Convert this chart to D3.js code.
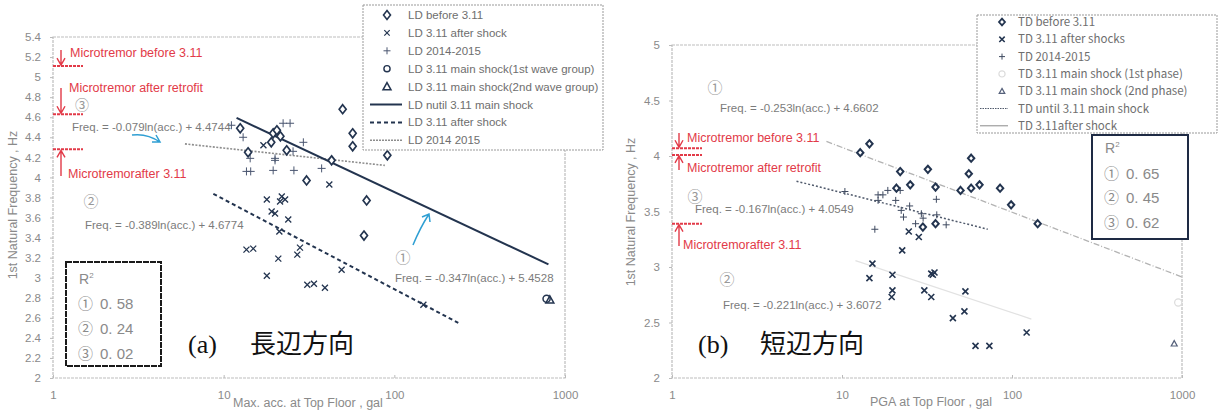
<!DOCTYPE html>
<html>
<head>
<meta charset="utf-8">
<script src="https://cdn.jsdelivr.net/npm/d3@7"></script>
<style>
  body { margin: 0; background: #fff; }
  svg { display: block; }
</style>
</head>
<body>
<svg id="chart" width="1226" height="410"></svg>
<script>
// values: [max acc. at top floor (gal), 1st natural frequency (Hz)]

// (a) long direction (LD)
const ldBefore = [[12.5, 4.49], [19.5, 4.44], [20.5, 4.47], [21.5, 4.41], [19.0, 4.35], [13.9, 4.25],
  [23.4, 4.27], [30.6, 3.97], [42.9, 4.17], [49.8, 4.68], [57, 4.44], [57, 4.31], [91, 4.22],
  [68.8, 3.77], [66.4, 3.42]];
const ldAfter = [[17.1, 4.32], [41.6, 3.93], [17.9, 3.78], [21.9, 3.81], [22.9, 3.78], [21.4, 3.76],
  [19.1, 3.66], [20.0, 3.64], [23.9, 3.58], [21.2, 3.46], [13.6, 3.28], [14.9, 3.29], [20.9, 3.19],
  [28.0, 3.30], [27.0, 3.23], [17.9, 3.02], [30.9, 2.93], [33.8, 2.94], [39.2, 2.90], [49.1, 3.08],
  [148, 2.73]];
const ld2014 = [[11.1, 4.52], [13.0, 4.40], [29.3, 4.35], [22.3, 4.54], [24.5, 4.54], [14.3, 4.19],
  [20.0, 4.19], [20.0, 4.17], [25.5, 4.26], [13.6, 4.06], [14.4, 4.06], [19.5, 4.07], [25.8, 4.07],
  [37.5, 4.09]];
const ldMain1 = [[780, 2.79]];
const ldMain2 = [[815, 2.78]];
// fitted lines, end points
const ldFit1 = [[11.9, 4.593], [800, 3.133]];
const ldFit2 = [[8.7, 3.836], [237, 2.55]];
const ldFit3 = [[5.93, 4.334], [88, 4.12]];
const ldMicro = [5.11, 4.63, 4.28];
const ldR2 = ["0. 58", "0. 24", "0. 02"];

// (b) short direction (TD)
const tdBefore = [[12.8, 4.03], [14.5, 4.11], [22, 3.86], [32, 3.88], [25.2, 3.74], [20.9, 3.71],
  [35.5, 3.72], [57.5, 3.98], [55.7, 3.84], [49.8, 3.69], [57.5, 3.71], [64.4, 3.74], [85.1, 3.71],
  [98.8, 3.56], [141.6, 3.39], [29.9, 3.36], [35.5, 3.39]];
const tdAfter = [[24.7, 3.32], [28.3, 3.27], [22.6, 3.15], [15.1, 3.03], [14.5, 2.90], [19.8, 2.93],
  [19.8, 2.79], [19.6, 2.73], [33.5, 2.94], [35, 2.95], [34.2, 2.93], [30.5, 2.79], [33.5, 2.73],
  [53.2, 2.78], [52.5, 2.60], [44.9, 2.54], [61, 2.29], [73.6, 2.29], [121.9, 2.41]];
const td2014 = [[10.4, 3.68], [16.3, 3.65], [17.4, 3.65], [18.6, 3.69], [16.3, 3.60], [20.7, 3.60],
  [22, 3.69], [22.3, 3.51], [25, 3.55], [35.9, 3.61], [23, 3.45], [29.3, 3.48], [30, 3.44],
  [36.1, 3.47], [27.1, 3.39], [41, 3.38], [15.6, 3.34]];
const tdMain1 = [[950, 2.68]];
const tdMain2 = [[900, 2.31]];
const tdFit1 = [[8.1, 4.131], [1000, 2.91]];
const tdFit2 = [[12, 3.058], [130, 2.531]];
const tdFit3 = [[5.4, 3.773], [72, 3.34]];
const tdMicro = [4.07, 4.01, 3.39];
const tdR2 = ["0. 65", "0. 45", "0. 62"];

const xTicks = [1, 10, 100, 1000];
const yTicksA = [2, 2.2, 2.4, 2.6, 2.8, 3, 3.2, 3.4, 3.6, 3.8, 4, 4.2, 4.4, 4.6, 4.8, 5, 5.2, 5.4];
const yTicksB = [2, 2.5, 3, 3.5, 4, 4.5, 5];

const legendA = ["LD before 3.11", "LD 3.11 after shock", "LD 2014-2015",
  "LD 3.11 main shock(1st wave group)", "LD 3.11 main shock(2nd wave group)",
  "LD nutil 3.11 main shock", "LD 3.11 after shock", "LD 2014 2015"];
const legendB = ["TD before 3.11", "TD 3.11 after shocks", "TD 2014-2015",
  "TD 3.11 main shock (1st phase)", "TD 3.11 main shock (2nd phase)",
  "TD until 3.11 main shock", "TD 3.11after shock"];

const INK = "#23344f";
const RED = "#e23a48";
const GREY = "#7b7b7b";
const NARROW = "'Liberation Sans Narrow','Arial Narrow','Liberation Sans',sans-serif";
const CJK = "'Noto Sans CJK JP','Noto Sans',sans-serif";

const svg = d3.select("#chart");

// marker paths centred on 0,0
const shape = {
  diamond: (w, h) => `M0,${-h}L${w},0L0,${h}L${-w},0Z`,
  times: s => `M${-s},${-s}L${s},${s}M${-s},${s}L${s},${-s}`,
  plus: s => `M${-s},0L${s},0M0,${-s}L0,${s}`,
  triangle: s => `M0,${-s}L${s},${s * 0.8}L${-s},${s * 0.8}Z`
};

function marks(g, data, x, y, d, style) {
  g.append("g").selectAll("path").data(data).join("path")
    .attr("transform", p => `translate(${x(p[0])},${y(p[1])})`)
    .attr("d", d)
    .attr("fill", style.fill || "none")
    .attr("stroke", style.stroke)
    .attr("stroke-width", style.width);
}

function fitLine(g, pts, x, y, style) {
  g.append("line")
    .attr("x1", x(pts[0][0])).attr("y1", y(pts[0][1]))
    .attr("x2", x(pts[1][0])).attr("y2", y(pts[1][1]))
    .attr("stroke", style.stroke).attr("stroke-width", style.width)
    .attr("stroke-dasharray", style.dash || null);
}

function label(g, x, y, str, opts) {
  return g.append("text").attr("x", x).attr("y", y)
    .attr("font-family", opts.font || NARROW)
    .attr("font-size", opts.size || 11)
    .attr("fill", opts.fill || GREY)
    .attr("text-anchor", opts.anchor || "start")
    .text(str);
}

// red vertical arrow, head at yTo
function redArrow(g, x, yFrom, yTo) {
  const dir = yTo > yFrom ? 1 : -1;
  g.append("path")
    .attr("d", `M${x},${yFrom}L${x},${yTo}M${x - 4},${yTo - dir * 7}L${x},${yTo}L${x + 4},${yTo - dir * 7}`)
    .attr("fill", "none").attr("stroke", RED).attr("stroke-width", 1.4);
}

function axes(g, x, y, yTicks, xRange, yRange, ytitle, ytitleX, ytitleY) {
  g.append("rect")
    .attr("x", xRange[0]).attr("y", yRange[1])
    .attr("width", xRange[1] - xRange[0]).attr("height", yRange[0] - yRange[1])
    .attr("fill", "none").attr("stroke", "#bdbdbd").attr("stroke-width", 1.2)
    .attr("stroke-dasharray", "3,1");

  const ya = g.append("g").attr("transform", `translate(${xRange[0]},0)`)
    .call(d3.axisLeft(y).tickValues(yTicks).tickFormat(d3.format("~g")).tickSize(3).tickPadding(9));
  const xa = g.append("g").attr("transform", `translate(0,${yRange[0]})`)
    .call(d3.axisBottom(x).tickValues(xTicks).tickFormat(d3.format("d")).tickSize(-3).tickPadding(13));
  [ya, xa].forEach(a => {
    a.select(".domain").remove();
    a.selectAll(".tick line").attr("stroke", "#bbb");
    a.selectAll(".tick text").attr("fill", "#8a8a8a").attr("font-family", NARROW).attr("font-size", 11.5);
  });

  g.append("text")
    .attr("transform", `translate(${ytitleX},${ytitleY}) rotate(-90)`)
    .attr("text-anchor", "middle")
    .attr("font-family", NARROW).attr("font-size", 12.5).attr("fill", "#8a8a8a")
    .text(ytitle);
}

function r2Box(g, bx, by, bw, bh, values, stroke, dash, rows) {
  g.append("rect").attr("x", bx).attr("y", by).attr("width", bw).attr("height", bh)
    .attr("fill", "#fff").attr("stroke", stroke).attr("stroke-width", 2)
    .attr("stroke-dasharray", dash);
  const t = label(g, bx + 13, rows[0], "R", { size: 14, fill: "#8a8a8a" });
  t.append("tspan").attr("dy", -6).attr("font-size", 8).text("2");
  ["\u2460", "\u2461", "\u2462"].forEach((c, i) => {
    label(g, bx + 12, rows[i + 1], c, { size: 15, fill: "#8a8a8a", font: CJK });
    label(g, bx + 34, rows[i + 1], values[i], { size: 15, fill: "#8a8a8a" });
  });
}

// ---------------- panel (a) ----------------
const xA = d3.scaleLog().domain([1, 1000]).range([53, 565]);
const yA = d3.scaleLinear().domain([2, 5.4]).range([378, 37]);
const gA = svg.append("g");

axes(gA, xA, yA, yTicksA, [53, 565], [378, 37], "1st Natural Frequency , Hz", 17, 205);

fitLine(gA, ldFit3, xA, yA, { stroke: "#8d8d8d", width: 1.6, dash: "2,1.5" });
fitLine(gA, ldFit1, xA, yA, { stroke: INK, width: 2 });
fitLine(gA, ldFit2, xA, yA, { stroke: INK, width: 2, dash: "4,3" });

marks(gA, ld2014, xA, yA, shape.plus(4), { stroke: "#4a5670", width: 1 });
marks(gA, ldAfter, xA, yA, shape.times(3), { stroke: INK, width: 1.3 });
marks(gA, ldBefore, xA, yA, shape.diamond(3.5, 4.5), { stroke: INK, width: 1.7, fill: "#fff" });
marks(gA, ldMain1, xA, yA, d3.symbol(d3.symbolCircle, 40)(), { stroke: INK, width: 1.5, fill: "#fff" });
marks(gA, ldMain2, xA, yA, shape.triangle(4), { stroke: INK, width: 1.5 });

// microtremor markers (a)
ldMicro.forEach(v => {
  gA.append("line").attr("x1", 53).attr("x2", 83).attr("y1", yA(v)).attr("y2", yA(v))
    .attr("stroke", RED).attr("stroke-width", 2).attr("stroke-dasharray", "3,1");
});
redArrow(gA, 61, 50, yA(ldMicro[0]) - 1);
redArrow(gA, 61, 88, yA(ldMicro[1]) - 1);
redArrow(gA, 61, 176, yA(ldMicro[2]) + 1);
label(gA, 70, 57, "Microtremor before 3.11", { size: 12.5, fill: RED });
label(gA, 69, 92, "Microtremor after retrofit", { size: 12.5, fill: RED });
label(gA, 68, 178, "Microtremorafter 3.11", { size: 12.5, fill: RED });

label(gA, 82, 110, "\u2462", { size: 14, fill: "#999", font: CJK, anchor: "middle" });
label(gA, 72, 131, "Freq. = -0.079ln(acc.) + 4.4744", { size: 11.5 });
label(gA, 91, 207, "\u2461", { size: 15, fill: "#999", font: CJK, anchor: "middle" });
label(gA, 85, 229, "Freq. = -0.389ln(acc.) + 4.6774", { size: 11.5 });
label(gA, 403, 263, "\u2460", { size: 15, fill: "#999", font: CJK, anchor: "middle" });
label(gA, 395, 282, "Freq. = -0.347ln(acc.) + 5.4528", { size: 11.5 });

// blue pointers
gA.append("path").attr("d", "M132,135 Q147,133 160,142 M152,142 L160,142 L156,135")
  .attr("fill", "none").attr("stroke", "#2f9fd3").attr("stroke-width", 1.5);
gA.append("path").attr("d", "M413,245 Q420,228 429,214 M422,217 L429,214 L430,222")
  .attr("fill", "none").attr("stroke", "#2f9fd3").attr("stroke-width", 1.5);

r2Box(gA, 66, 262, 95, 104, ldR2, "#1a1a1a", "6,1", [284, 309, 334, 359]);

const titleA = gA.append("text").attr("x", 188).attr("y", 353).attr("fill", "#111");
titleA.append("tspan").attr("font-family", "'Liberation Serif',serif").attr("font-size", 26).text("(a)");
titleA.append("tspan").attr("x", 250).attr("font-family", CJK).attr("font-size", 26).text("長辺方向");

label(gA, 233, 407, "Max. acc. at Top Floor , gal", { size: 12.5, fill: "#8a8a8a" });

// legend (a)
const lgA = gA.append("g");
lgA.append("rect").attr("x", 363).attr("y", 5).attr("width", 240).attr("height", 145)
  .attr("fill", "#fff").attr("stroke", "#999").attr("stroke-dasharray", "2,1");
const rowA = i => 15 + i * 17.9;
lgA.append("path").attr("transform", `translate(387,${rowA(0)})`).attr("d", shape.diamond(3.5, 4.5))
  .attr("fill", "#fff").attr("stroke", INK).attr("stroke-width", 1.6);
lgA.append("path").attr("transform", `translate(387,${rowA(1)})`).attr("d", shape.times(2.7))
  .attr("stroke", INK).attr("stroke-width", 1.2);
lgA.append("path").attr("transform", `translate(387,${rowA(2)})`).attr("d", shape.plus(3.5))
  .attr("stroke", "#4a5670").attr("stroke-width", 1);
lgA.append("path").attr("transform", `translate(387,${rowA(3)})`).attr("d", d3.symbol(d3.symbolCircle, 30)())
  .attr("fill", "#fff").attr("stroke", INK).attr("stroke-width", 1.4);
lgA.append("path").attr("transform", `translate(387,${rowA(4)})`).attr("d", shape.triangle(4))
  .attr("fill", "none").attr("stroke", INK).attr("stroke-width", 1.5);
[{ stroke: INK, width: 2 }, { stroke: INK, width: 2, dash: "4,3" }, { stroke: "#8d8d8d", width: 1.4, dash: "2,1" }]
  .forEach((s, k) => {
    lgA.append("line").attr("x1", 370).attr("x2", 402).attr("y1", rowA(5 + k)).attr("y2", rowA(5 + k))
      .attr("stroke", s.stroke).attr("stroke-width", s.width).attr("stroke-dasharray", s.dash || null);
  });
legendA.forEach((t, i) => label(lgA, 408, rowA(i) + 4, t, { size: 11.5, fill: "#6e6e6e" }));

// ---------------- panel (b) ----------------
const xB = d3.scaleLog().domain([1, 1000]).range([672, 1182]);
const yB = d3.scaleLinear().domain([2, 5]).range([378, 45]);
const gB = svg.append("g");

axes(gB, xB, yB, yTicksB, [672, 1182], [378, 45], "1st Natural Frequency , Hz", 635, 212);

fitLine(gB, tdFit1, xB, yB, { stroke: "#b3b3b3", width: 1.3, dash: "6,2,1,2" });
fitLine(gB, tdFit2, xB, yB, { stroke: "#e2e2e2", width: 1.2 });
fitLine(gB, tdFit3, xB, yB, { stroke: "#505a6c", width: 1.5, dash: "2,2" });

marks(gB, td2014, xB, yB, shape.plus(3.5), { stroke: "#3f4a60", width: 1 });
marks(gB, tdAfter, xB, yB, shape.times(3), { stroke: INK, width: 1.6 });
marks(gB, tdBefore, xB, yB, shape.diamond(3.2, 3.6), { stroke: INK, width: 2, fill: "#fff" });
marks(gB, tdMain1, xB, yB, d3.symbol(d3.symbolCircle, 40)(), { stroke: "#dcdcdc", width: 1.2 });
marks(gB, tdMain2, xB, yB, shape.triangle(3), { stroke: "#55607a", width: 1.2 });

// microtremor markers (b)
tdMicro.forEach(v => {
  gB.append("line").attr("x1", 672).attr("x2", 702).attr("y1", yB(v)).attr("y2", yB(v))
    .attr("stroke", RED).attr("stroke-width", 2).attr("stroke-dasharray", "3,1");
});
redArrow(gB, 679, 133, yB(tdMicro[0]) - 1);
redArrow(gB, 679, 170, yB(tdMicro[1]) + 1);
redArrow(gB, 679, 246, yB(tdMicro[2]) + 1);
label(gB, 687, 142, "Microtremor before 3.11", { size: 12.5, fill: RED });
label(gB, 687, 172, "Microtremor after retrofit", { size: 12.5, fill: RED });
label(gB, 683, 249, "Microtremorafter 3.11", { size: 12.5, fill: RED });

label(gB, 715, 93, "\u2460", { size: 15, fill: "#999", font: CJK, anchor: "middle" });
label(gB, 720, 112, "Freq. = -0.253ln(acc.) + 4.6602", { size: 11.5 });
label(gB, 695, 202, "\u2462", { size: 15, fill: "#999", font: CJK, anchor: "middle" });
label(gB, 695, 213, "Freq. = -0.167ln(acc.) + 4.0549", { size: 11.5 });
label(gB, 727, 285, "\u2461", { size: 15, fill: "#999", font: CJK, anchor: "middle" });
label(gB, 723, 309, "Freq. = -0.221ln(acc.) + 3.6072", { size: 11.5 });

r2Box(gB, 1092, 135, 96, 104, tdR2, "#1e2a44", null, [153, 179, 203, 228]);

const titleB = gB.append("text").attr("x", 698).attr("y", 353).attr("fill", "#111");
titleB.append("tspan").attr("font-family", "'Liberation Serif',serif").attr("font-size", 26).text("(b)");
titleB.append("tspan").attr("x", 760).attr("font-family", CJK).attr("font-size", 26).text("短辺方向");

label(gB, 870, 406, "PGA at Top Floor , gal", { size: 12.5, fill: "#8a8a8a" });

// legend (b)
const lgB = gB.append("g");
lgB.append("rect").attr("x", 977).attr("y", 15).attr("width", 240).attr("height", 118)
  .attr("fill", "#fff").attr("stroke", "#999").attr("stroke-dasharray", "2,1");
const rowB = i => 22 + i * 17.3;
lgB.append("path").attr("transform", `translate(1002,${rowB(0)})`).attr("d", shape.diamond(3, 3.4))
  .attr("fill", "#fff").attr("stroke", INK).attr("stroke-width", 1.8);
lgB.append("path").attr("transform", `translate(1002,${rowB(1)})`).attr("d", shape.times(2.7))
  .attr("stroke", INK).attr("stroke-width", 1.5);
lgB.append("path").attr("transform", `translate(1002,${rowB(2)})`).attr("d", shape.plus(3))
  .attr("stroke", "#3f4a60").attr("stroke-width", 1);
lgB.append("path").attr("transform", `translate(1002,${rowB(3)})`).attr("d", d3.symbol(d3.symbolCircle, 30)())
  .attr("fill", "none").attr("stroke", "#dcdcdc").attr("stroke-width", 1.2);
lgB.append("path").attr("transform", `translate(1002,${rowB(4)})`).attr("d", shape.triangle(2.8))
  .attr("fill", "none").attr("stroke", "#55607a").attr("stroke-width", 1.2);
[{ stroke: "#505a6c", width: 1.2, dash: "1.5,1" }, { stroke: "#8a8a8a", width: 1 }].forEach((s, k) => {
  lgB.append("line").attr("x1", 980).attr("x2", 1008).attr("y1", rowB(5 + k)).attr("y2", rowB(5 + k))
    .attr("stroke", s.stroke).attr("stroke-width", s.width).attr("stroke-dasharray", s.dash || null);
});
legendB.forEach((t, i) => label(lgB, 1018, rowB(i) + 4, t, { size: 11.5, fill: "#6e6e6e", font: CJK }));
</script>
</body>
</html>
